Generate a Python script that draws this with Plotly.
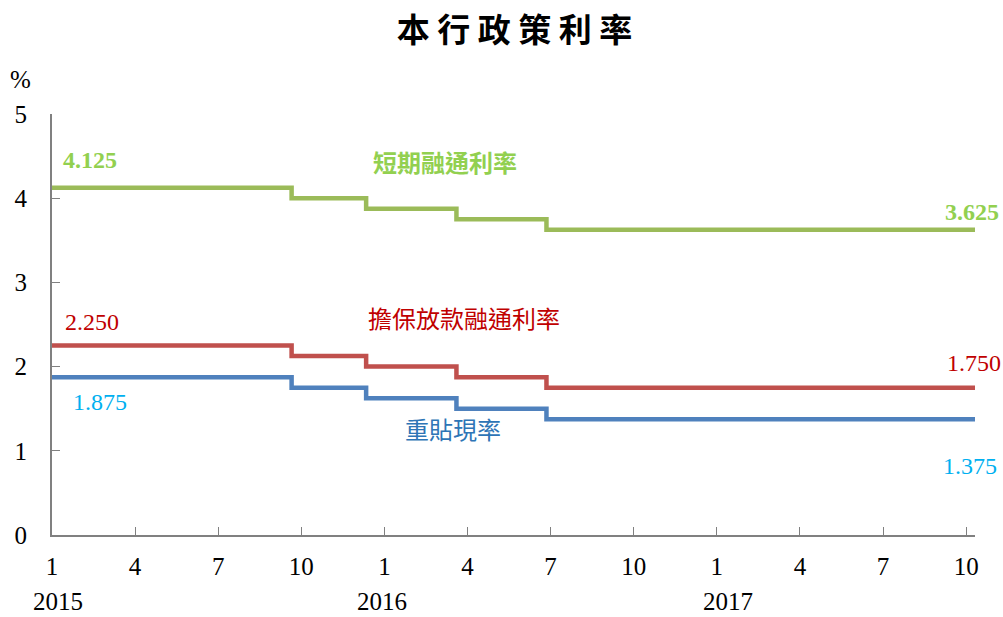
import plotly.graph_objects as go

# month index: 0 = 2015-01, 12 = 2016-01, 24 = 2017-01
step_x = [0, 8.65, 11.34, 14.6, 17.85, 33.32]
short_term = [4.125, 4.0, 3.875, 3.75, 3.625, 3.625]
secured = [2.25, 2.125, 2.0, 1.875, 1.75, 1.75]
rediscount = [1.875, 1.75, 1.625, 1.5, 1.375, 1.375]

tick_vals = list(range(0, 34, 3))
tick_text = ["1", "4", "7", "10"] * 3
years = ["2015", "2016", "2017"]
year_x = [0.2, 11.9, 24.4]

SERIF = "Liberation Serif, Times New Roman, serif"
CJK = "Noto Sans CJK TC"

fig = go.Figure()
for vals, col in [(short_term, "#9BBB59"), (secured, "#C0504D"), (rediscount, "#4F81BD")]:
    fig.add_trace(go.Scatter(x=step_x, y=vals, mode="lines", line=dict(color=col, width=4.5, shape="hv"),
                             hoverinfo="skip", showlegend=False))

ann = []
def A(text, x, y, color, size=24, font=SERIF):
    ann.append(dict(text=text, x=x, y=y, xref="x", yref="y", showarrow=False,
                    xanchor="center", yanchor="middle",
                    font=dict(color=color, size=size, family=font)))

A("<b>4.125</b>", 1.37, 4.45, "#92D050")
A("<b>短期融通利率</b>", 14.19, 4.43, "#92D050", size=24, font=CJK)
A("<b>3.625</b>", 33.2, 3.84, "#92D050")
A("2.250", 1.44, 2.53, "#C00000")
A("擔保放款融通利率", 14.87, 2.58, "#C00000", size=24, font=CJK)
A("1.750", 33.29, 2.04, "#C00000")
A("1.875", 1.73, 1.58, "#00B0F0")
A("重貼現率", 14.48, 1.27, "#2E75B6", size=24, font=CJK)
A("1.375", 33.14, 0.82, "#00B0F0")

for yr, xx in zip(years, year_x):
    ann.append(dict(text=yr, x=xx, y=-(601 - 535) / 421, xref="x", yref="paper", showarrow=False,
                    xanchor="center", yanchor="middle",
                    font=dict(size=25, family=SERIF, color="black")))
ann.append(dict(text="%", x=(20 - 52) / 923, y=(535 - 80) / 421, xref="paper", yref="paper",
                showarrow=False, xanchor="center", yanchor="middle",
                font=dict(size=25, family=SERIF, color="black")))

fig.update_layout(
    width=1003, height=617,
    margin=dict(l=52, r=28, t=114, b=82),
    paper_bgcolor="white", plot_bgcolor="white",
    title=dict(text="<b>本 行 政 策 利 率</b>", x=0.513, xanchor="center", y=0.951, yanchor="middle",
               font=dict(size=33, family=CJK, color="black")),
    annotations=ann,
    xaxis=dict(range=[0, 33.32], tickvals=tick_vals, ticktext=tick_text, ticks="inside", ticklen=8,
               tickcolor="#808080", showline=True, linecolor="#808080", linewidth=2, showgrid=False,
               zeroline=False, tickfont=dict(size=25, family=SERIF, color="black"), ticklabelstandoff=8),
    yaxis=dict(range=[0, 5], tickvals=[0, 1, 2, 3, 4, 5], ticks="inside", ticklen=8,
               tickcolor="#808080", showline=True, linecolor="#808080", linewidth=2, showgrid=False,
               zeroline=False, tickfont=dict(size=25, family=SERIF, color="black"), ticklabelstandoff=18),
)

fig.write_html("out.html")
